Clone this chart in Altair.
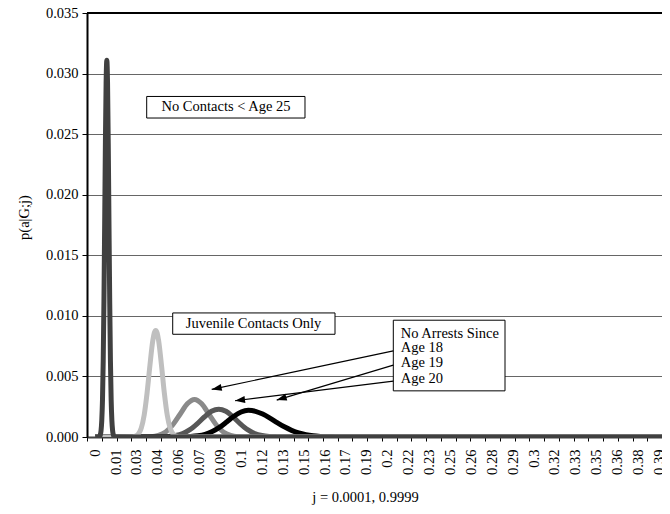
import math
import altair as alt
import pandas as pd

# ---------------- data ----------------
# No Contacts < Age 25 (dark grey, tall narrow peak)
nc_j = [0.0001, 0.0027, 0.0032, 0.0037, 0.0042, 0.0047, 0.0052, 0.0057, 0.0062, 0.0067,
        0.0072, 0.0077, 0.0082, 0.0087, 0.0092, 0.0097, 0.0102, 0.0107, 0.0112, 0.0117,
        0.0122, 0.0127, 0.0132, 0.0137, 0.9999]
nc_p = [0, 0.00001, 0.00005, 0.00018, 0.00053, 0.00137, 0.0031, 0.0063, 0.0112, 0.0175,
        0.0241, 0.0292, 0.0311, 0.0292, 0.0241, 0.0175, 0.0112, 0.0063, 0.0031, 0.00137,
        0.00053, 0.00018, 0.00005, 0.00001, 0]

# Juvenile Contacts Only (light grey)
juv_j = [0.0001, 0.0261, 0.0281, 0.0301, 0.0321, 0.0341, 0.0361, 0.0381, 0.0401, 0.0411,
         0.0421, 0.0431, 0.0441, 0.0461, 0.0481, 0.0501, 0.0521, 0.0541, 0.0561, 0.0581, 0.9999]
juv_p = [0, 0.00002, 0.00007, 0.00025, 0.00075, 0.00181, 0.00362, 0.00593, 0.00797, 0.00859,
         0.0088, 0.00859, 0.00797, 0.00593, 0.00362, 0.00181, 0.00075, 0.00025, 0.00007, 0.00002, 0]

# No arrests since age 18 (medium grey)
a18_j = [0.0001, 0.034, 0.039, 0.044, 0.049, 0.054, 0.059, 0.064, 0.069, 0.074, 0.079,
         0.084, 0.089, 0.094, 0.099, 0.104, 0.9999]
a18_p = [0, 0.00001, 0.00003, 0.00014, 0.00042, 0.00101, 0.00188, 0.00274, 0.0031, 0.00274,
         0.00188, 0.00101, 0.00042, 0.00014, 0.00003, 0.00001, 0]

# No arrests since age 19 (dark grey)
a19_j = [0.0001, 0.0408, 0.0458, 0.0508, 0.0558, 0.0608, 0.0658, 0.0708, 0.0758, 0.0808,
         0.0858, 0.0908, 0.0958, 0.1008, 0.1058, 0.1108, 0.1158, 0.1208, 0.1258, 0.1308, 0.9999]
a19_p = [0, 0, 0.00001, 0.00004, 0.00012, 0.00029, 0.00061, 0.00109, 0.00165, 0.00212,
         0.0023, 0.00212, 0.00165, 0.00109, 0.00061, 0.00029, 0.00012, 0.00004, 0.00001, 0, 0]

# No arrests since age 20 (black)
a20_j = [0.0001, 0.0563, 0.0613, 0.0663, 0.0713, 0.0763, 0.0813, 0.0863, 0.0913, 0.0963,
         0.1013, 0.1063, 0.1113, 0.1163, 0.1213, 0.1263, 0.1313, 0.1363, 0.1413, 0.1463,
         0.1513, 0.1563, 0.1613, 0.1663, 0.1713, 0.9999]
a20_p = [0, 0, 0.00001, 0.00004, 0.0001, 0.00022, 0.00045, 0.00079, 0.00124, 0.00171,
         0.00206, 0.0022, 0.00212, 0.00189, 0.00156, 0.00119, 0.00084, 0.00055, 0.00033, 0.00019,
         0.0001, 0.00005, 0.00002, 0.00001, 0, 0]

x_labels = ["0", "0.01", "0.03", "0.04", "0.06", "0.07", "0.09", "0.1", "0.12", "0.13",
            "0.15", "0.16", "0.17", "0.19", "0.2", "0.22", "0.23", "0.25", "0.26", "0.28",
            "0.29", "0.3", "0.32", "0.33", "0.35", "0.36", "0.38", "0.39"]
y_ticks = [0.000, 0.005, 0.010, 0.015, 0.020, 0.025, 0.030, 0.035]

# annotation boxes (data coordinates)
box_text = ["No Contacts < Age 25", "Juvenile Contacts Only"]
box_x1 = [0.03585, 0.05389]
box_x2 = [0.14563, 0.16644]
box_y1 = [0.02811, 0.01024]
box_y2 = [0.02633, 0.00848]
box_tx = [0.09085, 0.10992]
box_ty = [0.02722, 0.00936]

legend_lines = ["No Arrests Since", "Age 18", "Age 19", "Age 20"]
legend_box = [0.20687, 0.28433, 0.00964, 0.00381]
legend_tx = 0.2120
legend_ty = [0.00854, 0.00731, 0.00607, 0.00478]

arrow_xs = [0.20687, 0.20687, 0.20687]
arrow_ys = [0.00711, 0.00593, 0.00461]
arrow_xe = [0.08093, 0.12601, 0.09709]
arrow_ye = [0.00393, 0.00305, 0.00299]

# ---------------- layout ----------------
W, H = 575, 424
PX_PER_J = 1442.0
X_MIN = -8 / PX_PER_J
X_MAX = X_MIN + W / PX_PER_J
Y_MAX = 0.035
PX_PER_P = H / Y_MAX
SERIF = "Liberation Serif"
FS = 14.5

label_step = 1 / 69
label_values = [0.0001 + k * label_step for k in range(len(x_labels))]
tick_step = 14.75 / PX_PER_J
tick_values = []
v = X_MIN
while v <= X_MAX + 1e-9:
    tick_values.append(v)
    v += tick_step

labels_js = "[" + ",".join("'" + s + "'" for s in x_labels) + "]"
label_expr = labels_js + "[round((datum.value - 0.0001) * 69)]"

xscale = alt.Scale(domain=[X_MIN, X_MAX], nice=False, zero=False)
yscale = alt.Scale(domain=[0, Y_MAX], nice=False, zero=True)

x_axis = alt.Axis(orient="bottom", values=label_values, labelExpr=label_expr, labelAngle=270,
                  labelFont=SERIF, labelFontSize=FS, labelColor="black", labelPadding=12,
                  labelFlush=False, labelOverlap=False, ticks=False, grid=False,
                  domain=True, domainColor="#404040", domainWidth=2,
                  title="j = 0.0001, 0.9999", titleFont=SERIF, titleFontSize=FS,
                  titleFontWeight="normal", titleColor="black", titleX=278, titleY=60,
                  titleAlign="center", titleBaseline="middle")

tick_axis = alt.Axis(orient="bottom", values=tick_values, labels=False, ticks=True, tickSize=4,
                     tickColor="black", tickWidth=1, domain=False, grid=False, title="")

y_axis = alt.Axis(values=y_ticks, format=".3f", labelFont=SERIF, labelFontSize=FS,
                  labelColor="black", labelPadding=4, labelFlush=False, labelOverlap=False,
                  ticks=True, tickSize=5, tickColor="black", tickWidth=1,
                  domain=True, domainColor="black", domainWidth=2,
                  grid=True, gridColor="#666666", gridWidth=1,
                  title="p(a|G;j)", titleFont=SERIF, titleFontSize=FS, titleFontWeight="normal",
                  titleColor="black", titleAngle=270, titleX=-63, titleY=204,
                  titleAlign="center", titleBaseline="middle")


def X(f):
    return alt.X(f, type="quantitative", scale=xscale, axis=x_axis)


def Y(f):
    return alt.Y(f, type="quantitative", scale=yscale, axis=y_axis)


# tick-only axis layer
tick_layer = alt.Chart(pd.DataFrame({"t": tick_values})).mark_rule(opacity=0).encode(
    x=alt.X("t:Q", scale=xscale, axis=tick_axis))

top_rule = alt.Chart(pd.DataFrame({"p": [Y_MAX]})).mark_rule(color="black", strokeWidth=2).encode(
    y=Y("p"))

series = [
    (a18_j, a18_p, "#8a8a8a"),
    (a19_j, a19_p, "#575757"),
    (a20_j, a20_p, "#000000"),
    (juv_j, juv_p, "#bfbfbf"),
    (nc_j, nc_p, "#404040"),
]
curve_layers = []
for js, ps, col in series:
    df = pd.DataFrame({"j": js, "p": ps})
    curve_layers.append(
        alt.Chart(df).mark_line(color=col, strokeWidth=5, interpolate="monotone", clip=True,
                                strokeJoin="round").encode(x=X("j"), y=Y("p")))

boxes_df = pd.DataFrame({
    "x1": box_x1 + [legend_box[0]], "x2": box_x2 + [legend_box[1]],
    "y1": box_y1 + [legend_box[2]], "y2": box_y2 + [legend_box[3]]})
boxes = alt.Chart(boxes_df).mark_rect(fill="white", stroke="black", strokeWidth=1).encode(
    x=X("x1"), x2="x2:Q", y=Y("y1"), y2="y2:Q")

box_texts = alt.Chart(pd.DataFrame({"x": box_tx, "y": box_ty, "t": box_text})).mark_text(
    font=SERIF, fontSize=FS, color="black", align="center", baseline="middle").encode(
    x=X("x"), y=Y("y"), text="t:N")

legend_texts = alt.Chart(pd.DataFrame({"x": [legend_tx] * len(legend_lines), "y": legend_ty,
                                       "t": legend_lines})).mark_text(
    font=SERIF, fontSize=FS, color="black", align="left", baseline="middle").encode(
    x=X("x"), y=Y("y"), text="t:N")

angles = []
for xs, ys, xe, ye in zip(arrow_xs, arrow_ys, arrow_xe, arrow_ye):
    dx = (xe - xs) * PX_PER_J
    dy = -(ye - ys) * PX_PER_P
    angles.append(math.degrees(math.atan2(dx, -dy)) % 360)

arrows_df = pd.DataFrame({"xs": arrow_xs, "ys": arrow_ys, "xe": arrow_xe, "ye": arrow_ye,
                          "ang": angles})
arrow_lines = alt.Chart(arrows_df).mark_rule(color="black", strokeWidth=1.2).encode(
    x=X("xs"), y=Y("ys"), x2="xe:Q", y2="ye:Q")
arrow_heads = alt.Chart(arrows_df).mark_point(
    shape="M0,0L-0.35,1L0.35,1Z", filled=True, color="black", size=400, opacity=1,
    strokeWidth=0).encode(x=X("xe"), y=Y("ye"), angle=alt.Angle("ang:Q", scale=None))

inner = alt.layer(top_rule, *curve_layers, boxes, box_texts, legend_texts, arrow_lines,
                  arrow_heads)

chart = alt.layer(tick_layer, inner).resolve_axis(x="independent").properties(
    width=W, height=H,
    padding={"left": 79, "top": 5, "right": 0, "bottom": 69},
    autosize=alt.AutoSizeParams(type="none"),
).configure_view(fill="#f0f0f0", strokeWidth=0).configure(background="white")

chart.save("out.html", embed_options={"renderer": "svg", "actions": False})
